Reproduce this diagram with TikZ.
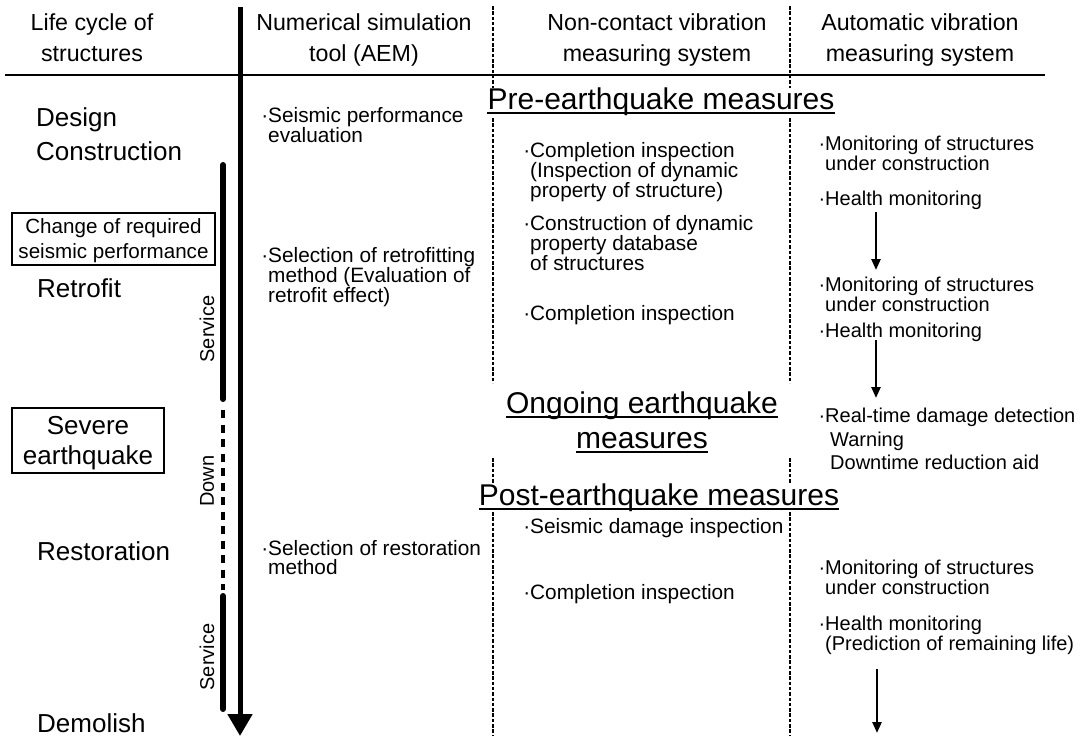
\documentclass[tikz,border=0pt]{standalone}
\usepackage{fontspec}
\setmainfont{Liberation Sans}
\usetikzlibrary{arrows.meta}

\begin{document}
\begin{tikzpicture}[x=1pt,y=-1pt,
  hdr/.style={anchor=north,align=center,inner sep=0pt,font=\fontsize{23.2}{31}\selectfont},
  stage/.style={anchor=base west,inner sep=0pt,font=\fontsize{26}{30}\selectfont},
  item/.style={anchor=north west,align=left,inner sep=0pt,font=\fontsize{20.8}{18}\selectfont},
  one/.style={anchor=base west,inner sep=0pt,font=\fontsize{20.8}{18}\selectfont},
  avitem/.style={anchor=north west,align=left,inner sep=0pt,font=\fontsize{20}{16}\selectfont},
  avone/.style={anchor=base west,inner sep=0pt,font=\fontsize{20}{16}\selectfont},
  phase/.style={anchor=base,inner sep=0pt,font=\fontsize{30}{34}\selectfont},
  event/.style={draw,line width=1.1pt,inner sep=0pt,align=center,text depth=0pt},
  period/.style={rotate=90,inner sep=0pt,font=\fontsize{20}{24}\selectfont},
  sep/.style={line width=1.6pt,dash pattern=on 3.5pt off 1.8pt},
  uline/.style={line width=1.4pt},
  bar/.style={line width=6pt,line cap=round},
  flow/.style={line width=2.4pt,-{Triangle[width=9pt,length=11pt]}}]
\useasboundingbox (0,0) rectangle (1081,736);

\node[hdr] (hlife) at (92,13) {Life cycle of\\structures};
\node[hdr] (haem) at (364,13) {Numerical simulation\\tool (AEM)};
\node[hdr] (hnc) at (657,13) {Non-contact vibration\\measuring system};
\node[hdr] (hauto) at (920,13) {Automatic vibration\\measuring system};

\coordinate (rulel) at (5,75);
\coordinate (ruler) at (1045,75);
\draw[line width=1.4pt] (rulel) -- (ruler);

\foreach \x in {493,790}{
  \draw[sep] (\x,6) -- (\x,88);
  \draw[sep] (\x,118) -- (\x,383);
  \draw[sep] (\x,458) -- (\x,483);
  \draw[sep] (\x,512) -- (\x,736);
}

\coordinate (lifetop) at (240,7);
\coordinate (lifeend) at (240,736);
\draw[line width=5pt,-{Triangle[width=24pt,length=22pt]}] (lifetop) -- (lifeend);

\coordinate (sv1a) at (223,165);
\coordinate (sv1b) at (223,399);
\coordinate (dna) at (223,410);
\coordinate (dnb) at (223,590);
\coordinate (sv2a) at (223,596);
\coordinate (sv2b) at (223,709);
\draw[bar] (sv1a) -- (sv1b);
\draw[line width=3.5pt,dash pattern=on 8pt off 6.5pt] (dna) -- (dnb);
\draw[bar] (sv2a) -- (sv2b);

\node[period] (svc1) at (207,329) {Service};
\node[period] (down) at (207,481) {Down};
\node[period] (svc2) at (207,657) {Service};

\node[stage] (design) at (36,126) {Design};
\node[stage] (constr) at (36,160) {Construction};
\node[event,minimum width=203pt,minimum height=52pt,font=\fontsize{20.6}{25}\selectfont] (chg) at (113.5,239) {Change of required\\seismic performance};
\node[stage] (retro) at (37,297) {Retrofit};
\node[event,minimum width=152pt,minimum height=65pt,font=\fontsize{26}{30}\selectfont] (quake) at (88,440.5) {Severe\\earthquake};
\node[stage] (resto) at (37,560) {Restoration};
\node[stage] (demol) at (37,732) {Demolish};

\node[item] (aem1) at (268,106.8) {\llap{·}Seismic performance\\evaluation};
\node[item] (aem2) at (268,246.8) {\llap{·}Selection of retrofitting\\method (Evaluation of\\retrofit effect)};
\node[item] (aem3) at (268,540) {\llap{·}Selection of restoration\\[1.5pt]method};

\node[phase] (pre) at (661,109) {Pre-earthquake measures};
\node[item] (nc1) at (530,141.8) {\llap{·}Completion inspection\\(Inspection of dynamic\\property of structure)};
\node[item] (nc2) at (530,214.8) {\llap{·}Construction of dynamic\\property database\\of structures};
\node[one] (nc3) at (530,320) {\llap{·}Completion inspection};
\node[phase] (ongo1) at (642,413) {Ongoing earthquake};
\node[phase] (ongo2) at (642,448) {measures};
\node[phase] (post) at (659,505) {Post-earthquake measures};
\node[one] (nc4) at (530,533) {\llap{·}Seismic damage inspection};
\node[one] (nc5) at (530,599) {\llap{·}Completion inspection};

\foreach \n in {pre,ongo1,ongo2,post}
  \draw[uline] ([yshift=-4pt]\n.base west) -- ([yshift=-4pt]\n.base east);

\node[avitem] (av1) at (825,136) {\llap{·}Monitoring of structures\\under construction};
\node[avone] (av2) at (825,205) {\llap{·}Health monitoring};
\node[avitem] (av3) at (825,277) {\llap{·}Monitoring of structures\\under construction};
\node[avone] (av4) at (825,337) {\llap{·}Health monitoring};
\node[avitem] (av5) at (825,408) {\llap{·}Real-time damage detection\\[4pt]\hspace*{5pt}Warning\\[4pt]\hspace*{5pt}Downtime reduction aid};
\node[avitem] (av6) at (825,560) {\llap{·}Monitoring of structures\\under construction};
\node[avitem] (av7) at (825,616) {\llap{·}Health monitoring\\(Prediction of remaining life)};

\coordinate (f1a) at (876,212);
\coordinate (f1b) at (876,270);
\coordinate (f2a) at (876,340);
\coordinate (f2b) at (876,398);
\coordinate (f3a) at (877,669);
\coordinate (f3b) at (877,733);
\draw[flow] (f1a) -- (f1b);
\draw[flow] (f2a) -- (f2b);
\draw[flow] (f3a) -- (f3b);
\end{tikzpicture}
\end{document}
